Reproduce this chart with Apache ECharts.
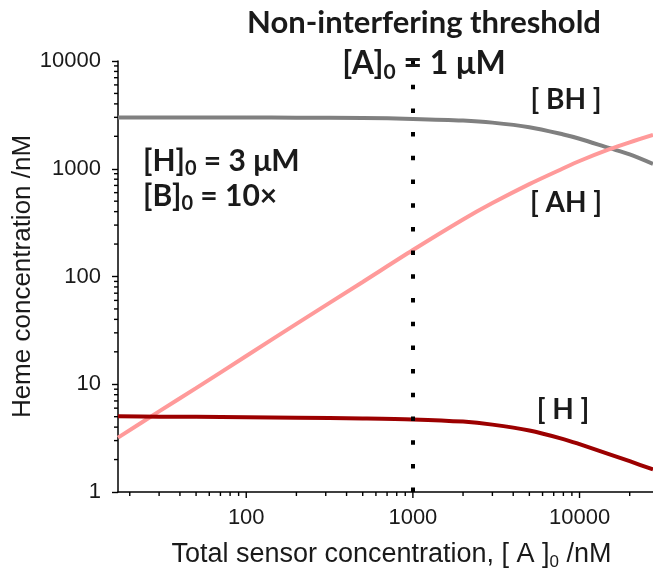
<!DOCTYPE html>
<html><head><meta charset="utf-8">
<script src="https://cdn.jsdelivr.net/npm/echarts@6/dist/echarts.min.js"></script>
<style>html,body{margin:0;padding:0;background:#fff}#c{width:653px;height:572px}</style>
</head><body><div id="c"></div>
<script>
// ---- data ----
const conc = [17, 30, 50, 100, 200, 500, 1000, 2000, 3000, 5000, 8000, 10000, 15000, 20000, 27600];
const BH   = [2990, 2990, 2990, 2985, 2980, 2960, 2900, 2800, 2680, 2430, 2080, 1900, 1560, 1360, 1110];
const AH   = [3.2, 5.6, 9.2, 18.3, 36.3, 89, 176, 338, 480, 720, 1010, 1180, 1510, 1760, 2060];
const H    = [5.05, 5.0, 4.98, 4.95, 4.9, 4.82, 4.72, 4.5, 4.22, 3.72, 3.1, 2.78, 2.25, 1.93, 1.62];
const xTickLabels = [100, 1000, 10000];
const yTickLabels = [1, 10, 100, 1000, 10000];
const threshold = 1000;
const xMin = 17, xMax = 27600, yMin = 1, yMax = 10000;

// minor tick values (2..9 per decade)
function minors(lo, hi) {
  const out = [];
  for (let d = 1; d <= 100000; d *= 10) for (let k = 2; k <= 9; k++) { const v = d * k; if (v > lo && v < hi) out.push(v); }
  return out;
}
const xMinorTicks = minors(xMin, xMax);
const yMinorTicks = minors(yMin, yMax);

const chart = echarts.init(document.getElementById('c'), null, {renderer: 'canvas'});
const labelFont = '"Liberation Sans", Arial, sans-serif';
const boldFont = 'Lato, "Open Sans", sans-serif';

function xTickSeries() {
  const data = xTickLabels.map(v => [v, yMin, 6]).concat(xMinorTicks.map(v => [v, yMin, 4]));
  return {
    type: 'custom', silent: true, clip: false, z: 5, data,
    renderItem: (p, api) => {
      const c = api.coord([api.value(0), api.value(1)]);
      return {type: 'line', shape: {x1: c[0], y1: c[1], x2: c[0], y2: c[1] + api.value(2)}, style: {stroke: '#000', lineWidth: 1.4}};
    }
  };
}
function yTickSeries() {
  const data = yMinorTicks.map(v => [xMin, v, 4]);
  return {
    type: 'custom', silent: true, clip: false, z: 5, data,
    renderItem: (p, api) => {
      const c = api.coord([api.value(0), api.value(1)]);
      return {type: 'line', shape: {x1: c[0], y1: c[1], x2: c[0] - api.value(2), y2: c[1]}, style: {stroke: '#000', lineWidth: 1.4}};
    }
  };
}

const lineSeries = (name, vals, color) => ({
  name, type: 'line', data: conc.map((x, i) => [x, vals[i]]), showSymbol: false,
  smooth: 0.3, lineStyle: {color, width: 4}, z: 3
});

function txt(x, y, text, align, size) {
  const b = {fontFamily: boldFont, fontWeight: 'bold', fontSize: size, color: '#1a1a1a'};
  const s = {fontFamily: boldFont, fontWeight: 'bold', fontSize: Math.round(size * 0.66), height: Math.round(size * 0.5), verticalAlign: 'bottom', color: '#1a1a1a'};
  return {type: 'text', x, y, z: 10, silent: true,
    style: {text, rich: {b, s}, align: align || 'left', verticalAlign: 'middle',
      font: 'bold ' + size + 'px ' + boldFont, fill: '#1a1a1a'}};
}

const option = {
  animation: false,
  backgroundColor: '#fff',
  grid: {left: 118, right: 0, top: 61, bottom: 80, containLabel: false, outerBoundsMode: 'none'},
  xAxis: {
    type: 'log', logBase: 10, min: xMin, max: xMax,
    name: 'Total sensor concentration, [ A ]{sub|0} /nM', nameLocation: 'middle', nameGap: 49,
    nameTextStyle: {fontFamily: labelFont, fontSize: 27, color: '#1a1a1a', padding: [0, 0, 0, 12],
      rich: {sub: {fontFamily: labelFont, fontSize: 17, height: 11, verticalAlign: 'bottom', color: '#1a1a1a'}}},
    axisLine: {lineStyle: {color: '#000', width: 1.5}},
    axisTick: {show: false},
    splitLine: {show: false},
    axisLabel: {fontFamily: labelFont, fontSize: 22, color: '#1a1a1a', margin: 15,
      formatter: v => { const r = Math.round(v); return xTickLabels.includes(r) ? String(r) : ''; }}
  },
  yAxis: {
    type: 'log', logBase: 10, min: yMin, max: yMax,
    name: 'Heme concentration /nM', nameLocation: 'middle', nameGap: 82, nameMoveOverlap: false,
    nameTextStyle: {fontFamily: labelFont, fontSize: 26, color: '#1a1a1a'},
    axisLine: {lineStyle: {color: '#000', width: 1.5}},
    axisTick: {show: true, inside: false, length: 6, lineStyle: {color: '#000', width: 1.4}},
    splitLine: {show: false},
    axisLabel: {fontFamily: labelFont, fontSize: 22, color: '#1a1a1a', margin: 17,
      formatter: v => { const r = Math.round(v); return yTickLabels.includes(r) ? String(r) : ''; }}
  },
  series: [
    lineSeries('BH', BH, '#808080'),
    lineSeries('AH', AH, '#ff9a9a'),
    Object.assign(lineSeries('H', H, '#9c0000'), {
      markLine: {
        silent: true, symbol: 'none', label: {show: false}, z: 6,
        lineStyle: {color: '#000', width: 4, type: [4.5, 19.2], cap: 'butt'},
        data: [[{coord: [threshold, yMax]}, {coord: [threshold, yMin]}]]
      }
    }),
    xTickSeries(),
    yTickSeries()
  ],
  graphic: [
    txt(424, 23, '{b|Non-interfering threshold}', 'center', 31),
    txt(424, 64, '{b|[A]}{s|0}{b| = 1 μM}', 'center', 32),
    txt(143, 161, '{b|[H]}{s|0}{b| = 3 μM}', 'left', 30),
    txt(143, 196, '{b|[B]}{s|0}{b| = 10×}', 'left', 30),
    txt(566, 100, '{b|[ BH ]}', 'center', 28),
    txt(566, 203, '{b|[ AH ]}', 'center', 28),
    txt(563, 410, '{b|[ H ]}', 'center', 28)
  ]
};
chart.setOption(option);
</script>
</body></html>
